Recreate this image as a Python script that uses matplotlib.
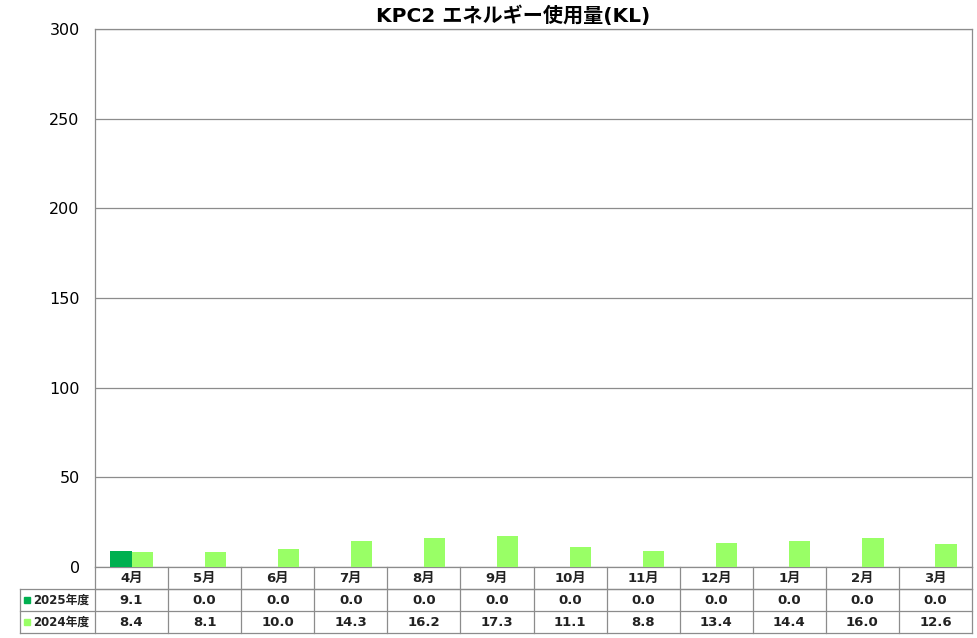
import numpy as np
import matplotlib.pyplot as plt

plt.rcParams['font.family'] = ['Noto Sans CJK JP', 'DejaVu Sans']
num_font = ['DejaVu Sans', 'Noto Sans CJK JP']

months = ['4月', '5月', '6月', '7月', '8月', '9月', '10月', '11月', '12月', '1月', '2月', '3月']
series_names = ['2025年度', '2024年度']
vals_2025 = [9.1, 0.0, 0.0, 0.0, 0.0, 0.0, 0.0, 0.0, 0.0, 0.0, 0.0, 0.0]
vals_2024 = [8.4, 8.1, 10.0, 14.3, 16.2, 17.3, 11.1, 8.8, 13.4, 14.4, 16.0, 12.6]
colors = ['#00B050', '#99FF66']
grid_color = '#8c8c8c'

fig = plt.figure(figsize=(9.77, 6.38), dpi=100)
ax = fig.add_axes([95 / 977, 71 / 638, 877 / 977, 538 / 638])

x = np.arange(len(months))
w = 0.29
ax.bar(x - w / 2, vals_2025, width=w, color=colors[0], zorder=3)
ax.bar(x + w / 2, vals_2024, width=w, color=colors[1], zorder=3)

ax.set_xlim(-0.5, len(months) - 0.5)
ax.set_ylim(0, 300)
ax.set_yticks(np.arange(0, 301, 50))
ax.tick_params(axis='y', length=0, pad=11, labelsize=11.5)
for lab in ax.get_yticklabels():
    lab.set_family(num_font)
ax.tick_params(axis='x', length=0, labelbottom=False)
ax.grid(axis='y', color=grid_color, linewidth=0.9, zorder=0)
for s in ax.spines.values():
    s.set_color(grid_color)
    s.set_linewidth(0.9)

ax.set_title('KPC2 エネルギー使用量(KL)', fontsize=14.5, fontweight='bold', pad=5,
             x=(513 - 95) / 877, family=['DejaVu Sans', 'Noto Sans CJK JP'])

# data table below the axes
row_h = 22 / 538
left_x = (20 - 95) / 877  # axes fraction
tr = ax.transAxes
kw = dict(color=grid_color, linewidth=0.9, transform=tr, clip_on=False)

ax.plot([0, 1], [-row_h, -row_h], **kw)
for i in (1, 2, 3):
    y = -row_h * i
    ax.plot([left_x, 1], [y, y], **kw)
ax.plot([left_x, left_x], [-row_h, -3 * row_h], **kw)
for k in range(len(months) + 1):
    xf = k / len(months)
    ax.plot([xf, xf], [0, -3 * row_h], **kw)

tkw = dict(transform=tr, ha='center', va='center', fontsize=9.5, fontweight='bold',
           color='#222222', family=num_font)
for k, m in enumerate(months):
    xc = (k + 0.5) / len(months)
    ax.text(xc, -0.5 * row_h, m, **tkw)
    ax.text(xc, -1.5 * row_h, f'{vals_2025[k]:.1f}', **tkw)
    ax.text(xc, -2.5 * row_h, f'{vals_2024[k]:.1f}', **tkw)

for i, (name, c) in enumerate(zip(series_names, colors)):
    yc = -(1.5 + i) * row_h
    ax.plot([(27 - 95) / 877], [yc], marker='s', markersize=5, color=c,
            transform=tr, clip_on=False, linestyle='none')
    ax.text((33 - 95) / 877, yc, name, transform=tr, ha='left', va='center',
            fontsize=8.5, fontweight='bold', color='#222222', family=num_font)

plt.savefig('out.png', dpi=100)
